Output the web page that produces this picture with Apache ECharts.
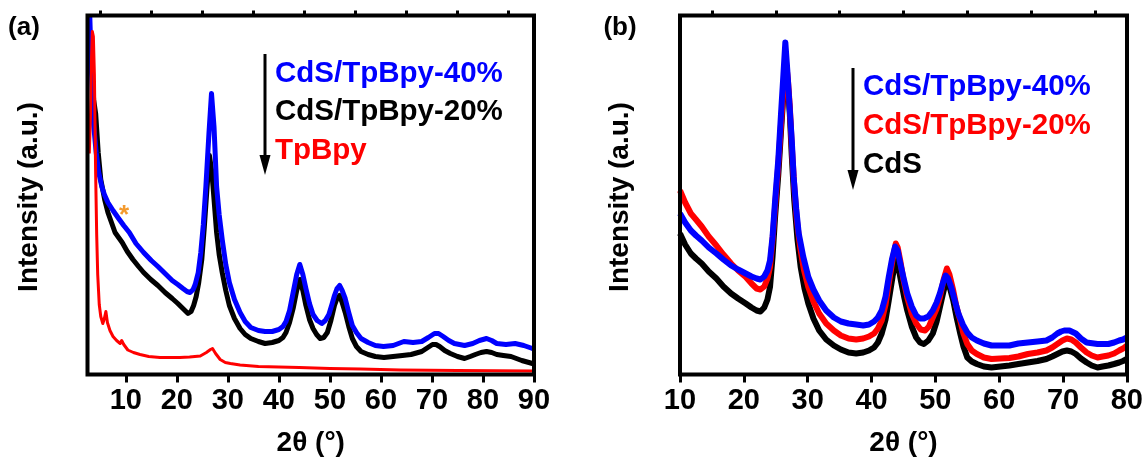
<!DOCTYPE html>
<html>
<head>
<meta charset="utf-8">
<title>XRD patterns</title>
<script src="https://cdn.jsdelivr.net/npm/echarts@6/dist/echarts.min.js"></script>
<style>
  html, body { margin: 0; padding: 0; background: #fff; }
  #chart { width: 1146px; height: 466px; }
</style>
</head>
<body>
<div id="chart"></div>
<script>
// ---- Panel (a): 2θ (deg) vs. intensity (a.u.) ----
const aCdS40 = [[2.95,358],[3.3,300],[3.7,250],[4.2,222],[4.7,202],[5.3,188],[5.8,180],[6.5,172],[7.5,164],[8.6,156],[9.6,149],[10.7,142],[12.0,131],[13.5,122],[15.0,114],[16.3,108],[17.7,101],[19.1,94],[20.2,90],[21.2,86],[22.0,83],[22.6,82],[23.2,85],[23.6,90],[24.2,102],[24.7,122],[25.2,150],[25.7,188],[26.3,241],[26.8,281],[27.3,247],[27.8,188],[28.3,160],[28.9,135],[29.6,110],[30.3,92],[31.3,75],[32.4,62],[33.4,53],[34.5,47],[36.0,44],[37.3,43],[38.7,43],[40.0,45],[40.8,48],[41.4,53],[42.1,64],[42.8,82],[43.5,100],[44.1,110],[44.7,100],[45.3,86],[46.0,71],[46.7,60],[47.5,54],[48.4,51],[49.1,54],[49.8,60],[50.4,70],[50.9,79],[51.4,86],[51.9,89],[52.4,84],[53.0,76],[53.7,62],[54.4,49],[55.2,42],[56.1,36],[57.5,32],[58.9,29],[60.5,28],[62.4,29],[64.5,33],[66.3,32],[68.0,33],[69.3,37],[70.5,41],[71.3,41],[72.2,38],[73.3,34],[74.4,31],[76.4,29],[78.0,31],[79.3,34],[80.7,36],[81.7,34],[82.7,31],[84.5,30],[86.3,31],[88.0,29],[89.7,26],[90,25]];
const aCdS20 = [[2.95,340],[3.4,305],[3.7,275],[4.1,261],[4.6,222],[5.1,195],[5.9,174],[6.5,162],[7.2,152],[7.9,142],[8.6,137],[9.3,132],[10.3,123],[11.4,115],[12.5,108],[13.5,102],[14.9,95],[16.3,89],[17.7,82],[19.1,76],[20.2,71],[21.2,66],[22.2,61],[22.8,63],[23.3,69],[23.8,78],[24.3,92],[24.9,115],[25.4,148],[25.9,185],[26.4,219],[26.8,205],[27.1,188],[27.8,142],[28.3,120],[28.9,102],[29.6,84],[30.3,69],[31.3,56],[32.4,46],[33.4,40],[34.5,36],[36.0,33],[37.3,31],[38.7,32],[40.0,34],[40.8,37],[41.4,42],[42.1,52],[42.8,66],[43.5,84],[44.1,95],[44.7,84],[45.3,69],[46.0,55],[46.7,46],[47.4,40],[48.1,36],[48.8,37],[49.5,42],[50.2,54],[50.9,69],[51.4,76],[51.9,79],[52.4,72],[53.0,62],[53.7,48],[54.4,36],[55.2,28],[56.1,23],[57.5,20],[58.9,18],[60.6,17],[62.4,18],[64.2,19],[65.9,20],[68.0,23],[69.2,27],[70.1,30],[70.8,30],[71.5,28],[72.5,24],[73.6,21],[75.0,18],[76.4,16],[77.5,18],[78.5,20],[79.6,22],[80.7,23],[81.7,22],[82.7,20],[84.0,19],[85.5,18],[87.6,14],[89.7,11],[90,10]];
const aTpBpy = [[2.85,221],[3.1,262],[3.3,318],[3.45,343],[3.65,338],[3.85,300],[4.1,200],[4.3,140],[4.5,100],[4.8,70],[5.1,58],[5.5,51],[5.8,56],[6.1,63],[6.4,52],[6.9,44],[7.5,38],[8.2,34],[8.9,31],[9.2,34],[9.6,30],[10.4,24.5],[11.5,22],[12.8,20],[14.5,18],[16.7,17],[18.5,17],[20.6,17],[22.5,17.5],[24.6,18.5],[25.8,22],[26.6,25],[27.0,26],[27.6,21],[28.5,15],[29.5,12],[30.5,11],[32.4,9.5],[36,8],[40,7.5],[44,7],[50,6],[56,5.5],[63.8,4.5],[75,4],[90,3.5]];

// ---- Panel (b) ----
const bCdS40 = [[10.0,161],[10.8,152],[11.7,144],[12.5,139],[13.4,134],[14.5,127],[15.7,121],[16.8,115],[18.0,109],[19.1,105],[20.3,101],[21.2,98],[22.0,96],[22.6,95],[23.2,98],[23.7,104],[24.1,114],[24.5,138],[24.9,174],[25.4,215],[25.8,258],[26.2,300],[26.5,332],[26.8,305],[27.1,275],[27.5,235],[27.8,198],[28.2,166],[28.6,141],[29.3,118],[30.1,97.5],[30.9,85],[31.8,74],[32.9,64],[34.1,57],[35.2,53],[36.4,51],[37.6,50],[38.7,49],[39.6,50],[40.4,53],[41.0,57],[41.6,64],[42.2,78],[42.7,97.5],[43.2,115],[43.7,128],[44.1,124],[44.4,114],[45.0,97],[45.6,81],[46.3,68],[47.0,59],[47.6,56],[48.2,56],[48.9,58],[49.6,64],[50.2,72],[50.7,81],[51.2,92],[51.6,99],[52.0,96],[52.5,87],[53.0,75],[53.6,61],[54.3,50],[55.0,42],[55.7,37],[56.5,34],[57.6,31],[58.8,29],[60.2,29],[61.6,29],[63.0,31],[64.5,32],[66.0,33],[67.4,34],[68.3,37],[69.1,41],[69.7,43],[70.2,44],[71.0,44],[72.0,41],[72.8,36],[73.7,32],[75.4,30.5],[77.1,30.5],[78.0,32],[78.8,34],[79.4,35],[80,37]];
const bCdS20 = [[10.0,184],[10.8,172],[11.7,161],[12.5,155],[13.4,148],[14.5,138],[15.7,129],[16.8,120],[18.0,111],[19.1,104],[20.3,97.5],[21.2,91],[22.0,86],[22.6,85],[23.2,88],[23.7,96],[24.1,107.5],[24.5,135],[24.9,168],[25.4,210],[25.8,248],[26.2,285],[26.6,313],[26.9,295],[27.2,268],[27.5,230],[27.9,188],[28.3,155],[28.8,128],[29.4,105],[30.1,87.5],[30.9,73],[31.8,61],[32.9,51],[34.1,44],[35.2,39],[36.4,36],[37.6,35],[38.7,36],[39.6,38],[40.4,41],[41.0,46],[41.6,54],[42.2,70],[42.7,91],[43.3,115],[43.8,131],[44.1,127],[44.5,114],[45.0,95],[45.6,77],[46.3,61],[47.0,51],[47.7,45],[48.4,44],[49.0,48],[49.6,57],[50.2,66],[50.7,77],[51.3,95],[51.8,106],[52.2,100],[52.8,84],[53.3,68],[53.9,54],[54.4,41],[55.0,30.5],[55.7,24],[56.5,20.5],[57.6,17],[58.8,15.5],[60.2,16],[61.6,16.5],[63.0,18],[64.5,20.5],[66.0,22],[67.4,24],[68.3,27],[69.1,30.5],[69.9,34],[70.6,36],[71.3,35],[72.0,32],[72.8,27],[73.7,22],[74.5,19],[75.4,17],[76.2,18],[77.1,19],[78.0,21],[78.8,24],[79.4,26],[80,29]];
const bCdS = [[10.0,141],[10.8,130],[11.7,121],[12.5,116],[13.4,111],[14.5,103],[15.7,96],[16.8,88],[18.0,81],[19.1,76],[20.3,71],[21.2,67],[22.0,64],[22.6,63],[23.2,67],[23.7,75],[24.1,87.5],[24.5,118],[24.9,158],[25.4,200],[25.8,241],[26.2,280],[26.6,305],[26.9,288],[27.2,261],[27.5,220],[27.9,174],[28.4,135],[28.9,107.5],[29.5,86],[30.1,71],[30.9,56],[31.8,44],[32.9,35],[34.1,29],[35.2,25],[36.4,22],[37.6,21],[38.7,22],[39.6,24],[40.4,27],[41.0,32],[41.6,41],[42.2,55],[42.7,74],[43.3,98],[43.8,114],[44.2,108],[44.6,94],[45.1,78],[45.6,64],[46.3,48],[47.0,37],[47.6,32],[48.2,30.5],[48.9,34],[49.6,41],[50.2,53],[50.7,67],[51.3,84],[51.8,94],[52.3,86],[52.8,74],[53.3,58],[53.9,41],[54.4,28],[55.0,17],[55.7,13],[56.5,10.5],[57.6,8],[58.8,7],[60.2,8],[61.6,9],[63.0,10.5],[64.5,12],[66.0,13.5],[67.4,15.5],[68.3,18],[69.1,20.5],[69.9,23],[70.6,24],[71.3,23],[72.0,20.5],[72.8,16],[73.7,12],[74.5,9],[75.4,7],[76.2,8],[77.1,9],[78.0,10.5],[78.8,12],[79.4,13.5],[80,15.5]];

// Axis ticks
const aMajorTicks = [10, 20, 30, 40, 50, 60, 70, 80, 90];
const aMinorTicks = [5, 15, 25, 35, 45, 55, 65, 75, 85];
const bMajorTicks = [10, 20, 30, 40, 50, 60, 70, 80];
const bMinorTicks = [15, 25, 35, 45, 55, 65, 75];

// Legend entries (text, colour)
const aLegend = [['CdS/TpBpy-40%', '#0000ff'], ['CdS/TpBpy-20%', '#000000'], ['TpBpy', '#ff0000']];
const bLegend = [['CdS/TpBpy-40%', '#0000ff'], ['CdS/TpBpy-20%', '#ff0000'], ['CdS', '#000000']];

const FONT = "'Liberation Sans', Arial, sans-serif";
const BLUE = '#0000ff', RED = '#ff0000', BLACK = '#000000';

const GA = { left: 87.5, top: 15.5, width: 446.5, height: 359 };
const GB = { left: 680, top: 15.5, width: 447, height: 359 };

function majorAxis(gridIndex, min, max, ticks) {
  return {
    type: 'value', gridIndex, min, max,
    axisLine: { show: false },
    splitLine: { show: false },
    axisTick: { show: true, inside: false, length: 8, customValues: ticks,
                lineStyle: { color: '#000', width: 3 } },
    axisLabel: { show: true, customValues: ticks, margin: 12,
                 fontFamily: FONT, fontWeight: 'bold', fontSize: 29, color: '#000' }
  };
}
function minorAxis(gridIndex, min, max, ticks) {
  return {
    type: 'value', gridIndex, min, max,
    axisLine: { show: false },
    splitLine: { show: false },
    axisTick: { show: true, inside: false, length: 5, customValues: ticks,
                lineStyle: { color: '#000', width: 3 } },
    axisLabel: { show: false }
  };
}
function yAxis(gridIndex) {
  return { type: 'value', gridIndex, min: 0, max: 359, show: false };
}
function line(name, data, color, width, xi, yi, z) {
  return {
    name, type: 'line', data, xAxisIndex: xi, yAxisIndex: yi,
    showSymbol: false, symbol: 'none', clip: true, z,
    lineStyle: { color, width, join: 'round' },
    animation: false
  };
}

function legendBlock(x0, yTop, yBottom, entries, lineY) {
  const els = [
    { type: 'line', shape: { x1: x0, y1: yTop, x2: x0, y2: yBottom - 16 },
      style: { stroke: '#000', lineWidth: 3 }, z: 110 },
    { type: 'polygon', shape: { points: [[x0 - 5.5, yBottom - 20], [x0 + 5.5, yBottom - 20], [x0, yBottom]] },
      style: { fill: '#000' }, z: 110 }
  ];
  entries.forEach((e, i) => {
    els.push({ type: 'text', x: x0 + 10, y: lineY[i], z: 110,
      style: { text: e[0], fill: e[1], font: 'bold 29.5px ' + FONT,
               textAlign: 'left', textVerticalAlign: 'middle' } });
  });
  return els;
}

const chart = echarts.init(document.getElementById('chart'), null, { renderer: 'canvas' });
chart.setOption({
  animation: false,
  backgroundColor: '#fff',
  grid: [
    Object.assign({ containLabel: false }, GA),
    Object.assign({ containLabel: false }, GB)
  ],
  xAxis: [
    majorAxis(0, 2.5, 90, aMajorTicks),
    minorAxis(0, 2.5, 90, aMinorTicks),
    majorAxis(1, 10, 80, bMajorTicks),
    minorAxis(1, 10, 80, bMinorTicks)
  ],
  yAxis: [yAxis(0), yAxis(1)],
  series: [
    line('CdS/TpBpy-20%', aCdS20, BLACK, 5, 0, 0, 2),
    line('CdS/TpBpy-40%', aCdS40, BLUE, 5, 0, 0, 3),
    line('TpBpy', aTpBpy, RED, 3, 0, 0, 4),
    line('CdS', bCdS, BLACK, 6, 2, 1, 2),
    line('CdS/TpBpy-20%', bCdS20, RED, 6, 2, 1, 3),
    line('CdS/TpBpy-40%', bCdS40, BLUE, 6, 2, 1, 4)
  ],
  graphic: [
    // frames
    { type: 'rect', shape: { x: GA.left, y: GA.top, width: GA.width, height: GA.height },
      style: { fill: 'none', stroke: '#000', lineWidth: 4 }, z: 100 },
    { type: 'rect', shape: { x: GB.left, y: GB.top, width: GB.width, height: GB.height },
      style: { fill: 'none', stroke: '#000', lineWidth: 4 }, z: 100 },
    // panel letters
    { type: 'text', x: 24, y: 28, z: 110,
      style: { text: '(a)', fill: '#000', font: 'bold 26px ' + FONT, textAlign: 'center', textVerticalAlign: 'middle' } },
    { type: 'text', x: 620, y: 28, z: 110,
      style: { text: '(b)', fill: '#000', font: 'bold 26px ' + FONT, textAlign: 'center', textVerticalAlign: 'middle' } },
    // y titles
    { type: 'text', x: 29, y: 197, rotation: Math.PI / 2, z: 110,
      style: { text: 'Intensity (a.u.)', fill: '#000', font: 'bold 28px ' + FONT, textAlign: 'center', textVerticalAlign: 'middle' } },
    { type: 'text', x: 620, y: 197, rotation: Math.PI / 2, z: 110,
      style: { text: 'Intensity (a.u.)', fill: '#000', font: 'bold 28px ' + FONT, textAlign: 'center', textVerticalAlign: 'middle' } },
    // x titles
    { type: 'text', x: GA.left + GA.width / 2, y: 443, z: 110,
      style: { text: '2θ (°)', fill: '#000', font: 'bold 28px ' + FONT, textAlign: 'center', textVerticalAlign: 'middle' } },
    { type: 'text', x: GB.left + GB.width / 2, y: 443, z: 110,
      style: { text: '2θ (°)', fill: '#000', font: 'bold 28px ' + FONT, textAlign: 'center', textVerticalAlign: 'middle' } },
    // asterisk marking the TpBpy reflection in the composite
    { type: 'text', x: 124, y: 216, z: 110,
      style: { text: '*', fill: '#f39a2e', font: 'bold 26px ' + FONT, textAlign: 'center', textVerticalAlign: 'middle' } }
  ]
    .concat(legendBlock(265, 54, 175, aLegend, [74, 112, 151]))
    .concat(legendBlock(853, 68, 190, bLegend, [87, 126, 165]))
});
</script>
</body>
</html>
